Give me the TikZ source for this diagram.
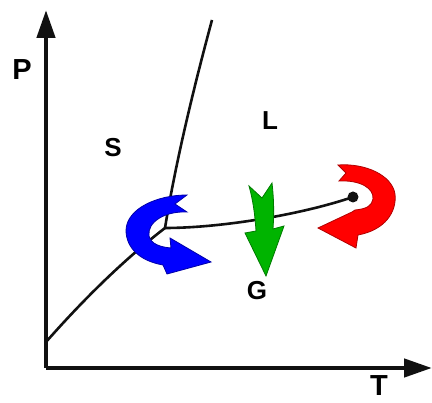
\documentclass[tikz,border=0pt]{standalone}
\usepackage{fontspec}
\setmainfont{Liberation Sans}
\usetikzlibrary{arrows.meta}
\definecolor{blue1}{HTML}{0000FF}
\definecolor{blue2}{HTML}{0000A8}
\definecolor{green1}{HTML}{00B400}
\definecolor{green2}{HTML}{007A00}
\definecolor{red1}{HTML}{FF0000}
\definecolor{red2}{HTML}{B00000}
\definecolor{ink}{HTML}{111111}

\begin{document}
\begin{tikzpicture}[x=1pt,y=-1pt,
    axis/.style={ink,line width=4.5pt,-{Triangle[length=28pt,width=18pt]}},
    bound/.style={ink,line width=2.6pt},
    phase/.style={font=\bfseries\fontsize{26}{26}\selectfont,inner sep=0pt},
    axlbl/.style={font=\bfseries\fontsize{29}{29}\selectfont,inner sep=0pt},
    turn/.style={line width=0.8pt,line join=miter}]
  \useasboundingbox (0,0) rectangle (432,403);
  % axes
  \coordinate (origin) at (46,368);
  \coordinate (ptop) at (46,10);
  \coordinate (tend) at (432,368);
  \draw[axis] (origin) -- (ptop);
  \draw[axis] (origin) -- (tend);
  \node[axlbl] (plbl) at (22,70) {P};
  \node[axlbl] (tlbl) at (379,386) {T};
  % phase boundaries
  \coordinate (sgstart) at (46,342);
  \coordinate (triple) at (165,228);
  \coordinate (sltop) at (212,20);
  \coordinate (crit) at (353,197);
  \draw[bound] (sgstart) .. controls (90,292) and (130,255) .. (triple);
  \draw[bound] (triple) .. controls (172,185) and (185,120) .. (sltop);
  \draw[bound] (triple) .. controls (220,228) and (300,215) .. (crit);
  \fill[ink] (crit) circle (5.5);
  % phase labels
  \node[phase] (slbl) at (113,148) {S};
  \node[phase] (llbl) at (270,121) {L};
  \node[phase] (glbl) at (257,291) {G};
  % sublimation turn
  \filldraw[turn,fill=blue1,draw=blue2]
    (187,195) -- (175,204) -- (187,212)
    .. controls (165,211) and (147,222) .. (149,236)
    .. controls (151,244) and (160,247) .. (171,248)
    -- (170,238) -- (211,262) -- (167,274) -- (163,265)
    .. controls (140,261) and (126,248) .. (126,230)
    .. controls (127,208) and (158,195) .. (187,195) -- cycle;
  % condensation drop
  \filldraw[turn,fill=green1,draw=green2]
    (249,186) -- (262,198) -- (272,183)
    .. controls (274,200) and (274,215) .. (273,229)
    -- (284,226) -- (266,276) -- (245,233) -- (256,231)
    .. controls (255,215) and (253,200) .. (249,186) -- cycle;
  % supercritical loop
  \filldraw[turn,fill=red1,draw=red2]
    (338,165) -- (346,173) -- (339,181)
    .. controls (360,180) and (374,188) .. (373,199)
    .. controls (372,206) and (366,209) .. (355,210)
    -- (352,212) -- (318,228) -- (356,248) -- (358,235)
    .. controls (385,230) and (397,212) .. (395,194)
    .. controls (392,175) and (365,163) .. (338,165) -- cycle;
\end{tikzpicture}
\end{document}
